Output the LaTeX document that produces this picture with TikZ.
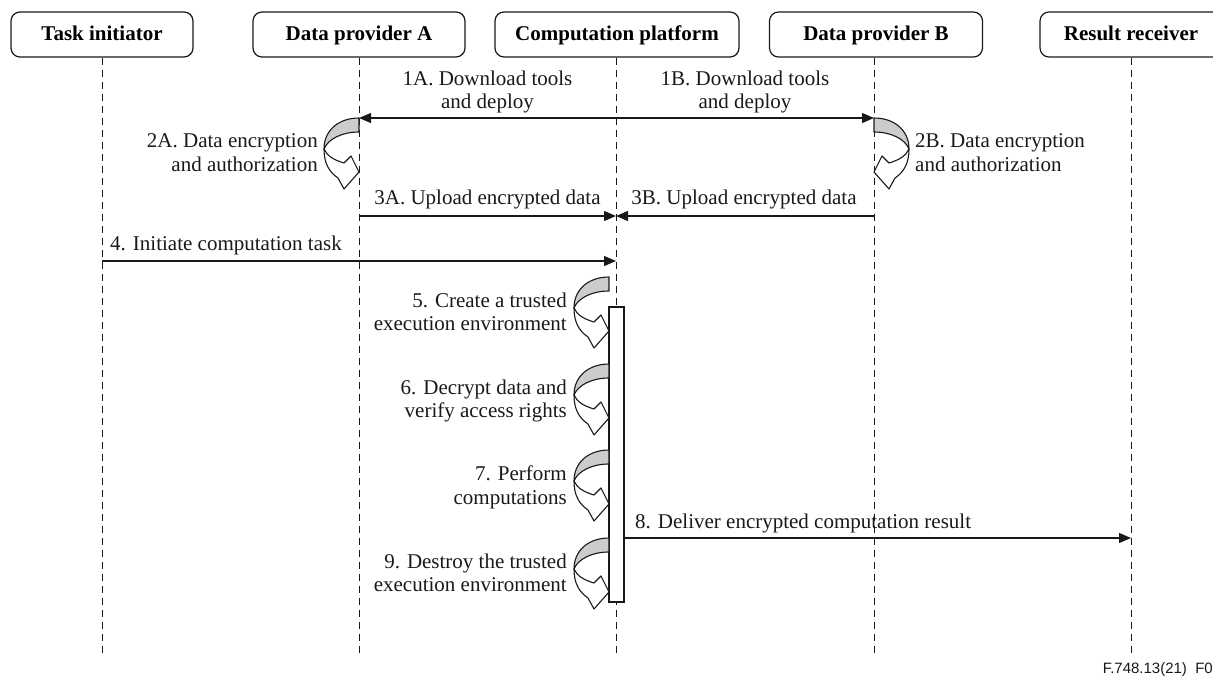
\documentclass[tikz,border=0pt]{standalone}
\usepackage{fontspec}
\setmainfont{Liberation Serif}
\newfontfamily\footfont{Liberation Sans}
\usetikzlibrary{arrows.meta}
\definecolor{bandgray}{RGB}{204,204,204}
\definecolor{inkc}{RGB}{25,25,25}
\tikzset{
  curvl/.pic={
    \filldraw[fill=bandgray, draw=inkc, line width=1.1pt, line join=round]
      (0,0) .. controls (-20,0) and (-35,12) .. (-35,31)
      .. controls (-31,21) and (-17,14) .. (0,14) -- cycle;
    \filldraw[fill=white, draw=inkc, line width=1.1pt, line join=round]
      (-35,31) .. controls (-35,45) and (-30,54) .. (-21,60)
      -- (-15,71) -- (0,54) -- (-8,38) -- (-15,45)
      .. controls (-25,42) and (-32,38) .. (-35,31) -- cycle;
  }
}
\begin{document}
\begin{tikzpicture}[x=1pt,y=-1pt,
  actor/.style={draw=inkc, rounded corners=9pt, line width=1.2pt, minimum height=45pt,
    font=\fontsize{21}{24}\selectfont\bfseries, inner sep=0pt, fill=white,
    text height=13pt, text depth=0pt},
  life/.style={draw=inkc, line width=0.9pt, dash pattern=on 7pt off 5pt},
  msg/.style={draw=inkc, line width=1.2pt, -{Triangle[length=12pt,width=10pt]}},
  lbl/.style={font=\fontsize{21}{23.5}\selectfont, inner sep=0pt, text=inkc},
  actbox/.style={draw=inkc, fill=white, line width=1.2pt, minimum width=15pt, minimum height=295pt, inner sep=0pt}
]
\useasboundingbox (0,0) rectangle (1213,679);

% actors
\node[actor, minimum width=182pt] (ti) at (102,34.5) {Task initiator};
\node[actor, minimum width=212pt] (dpa) at (359,34.5) {Data provider A};
\node[actor, minimum width=244pt] (cp) at (617,34.5) {Computation platform};
\node[actor, minimum width=213pt] (dpb) at (876,34.5) {Data provider B};
\node[actor, minimum width=182pt] (rr) at (1131,34.5) {Result receiver};

% lifeline ends
\coordinate (ti-end) at (102,657);
\coordinate (dpa-end) at (359,657);
\coordinate (cp-end) at (616,657);
\coordinate (dpb-end) at (874,657);
\coordinate (rr-end) at (1131,657);

\draw[life] (ti.south -| ti-end) -- (ti-end);
\draw[life] (dpa.south -| dpa-end) -- (dpa-end);
\draw[life] (cp.south -| cp-end) -- (cp-end);
\draw[life] (dpb.south -| dpb-end) -- (dpb-end);
\draw[life] (rr.south -| rr-end) -- (rr-end);

% activation box
\node[actbox] (act) at (616.5,454.5) {};

% message points
\coordinate (c1) at (616,118);
\coordinate (a1) at (359,118);
\coordinate (b1) at (874,118);
\coordinate (a3) at (359,216);
\coordinate (c3) at (616,216);
\coordinate (b3) at (874,216);
\coordinate (t4) at (102,261);
\coordinate (c4) at (616,261);
\coordinate (m8) at (624,538);
\coordinate (r8) at (1131,538);

% messages
\draw[msg] (c1) -- (a1);
\draw[msg] (c1) -- (b1);
\draw[msg] (a3) -- (c3);
\draw[msg] (b3) -- (c3);
\draw[msg] (t4) -- (c4);
\draw[msg] (m8) -- (r8);

% self arrows
\pic at (359,118) {curvl};
\pic[xscale=-1] at (874,118) {curvl};
\pic at (609,277) {curvl};
\pic at (609,364) {curvl};
\pic at (609,450) {curvl};
\pic at (609,538) {curvl};

% labels
\node[lbl, anchor=north, align=center] (l1a) at (487.5,70.7) {1A. Download tools\\and deploy};
\node[lbl, anchor=north, align=center] (l1b) at (745,70.7) {1B. Download tools\\and deploy};
\node[lbl, anchor=north east, align=right] (l2a) at (318,133.7) {2A. Data encryption\\and authorization};
\node[lbl, anchor=north west, align=left] (l2b) at (915,133.7) {2B. Data encryption\\and authorization};
\node[lbl, anchor=base] (l3a) at (487.5,205) {3A. Upload encrypted data};
\node[lbl, anchor=base] (l3b) at (744,205) {3B. Upload encrypted data};
\node[lbl, anchor=base west] (l4) at (110,251) {4. Initiate computation task};
\node[lbl, anchor=north east, align=right] (l5) at (567,292.7) {5. Create a trusted\\execution environment};
\node[lbl, anchor=north east, align=right] (l6) at (567,379.7) {6. Decrypt data and\\verify access rights};
\node[lbl, anchor=north east, align=right] (l7) at (567,465.7) {7. Perform\\computations};
\node[lbl, anchor=base west] (l8) at (635,528) {8. Deliver encrypted computation result};
\node[lbl, anchor=north east, align=right] (l9) at (567,553.7) {9. Destroy the trusted\\execution environment};

\node[anchor=base east, inner sep=0pt, font=\footfont\fontsize{15}{17}\selectfont, text=inkc] (fig) at (1213,673) {F.748.13(21)\ \ F0};
\end{tikzpicture}
\end{document}
